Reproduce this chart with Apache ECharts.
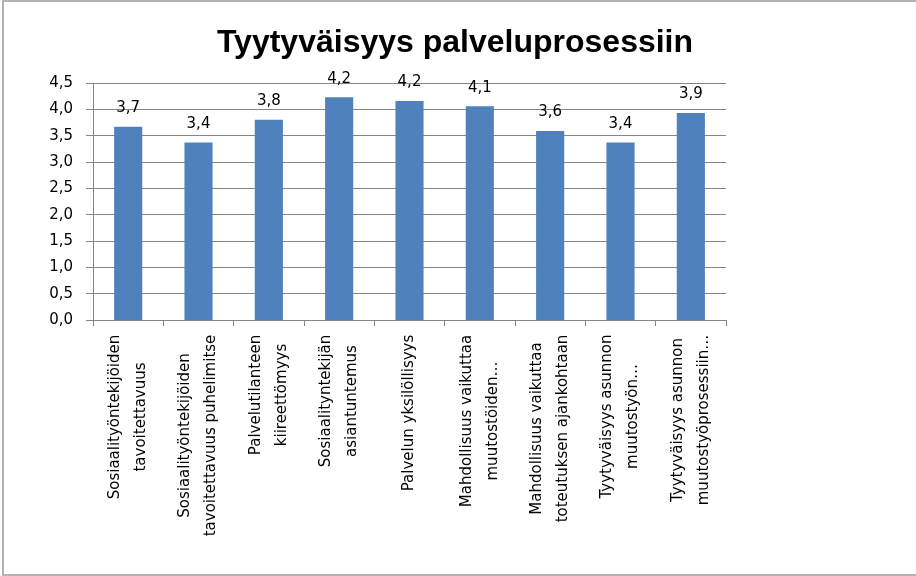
<!DOCTYPE html>
<html>
<head>
<meta charset="utf-8">
<script src="https://cdn.jsdelivr.net/npm/echarts@6/dist/echarts.min.js"></script>
<style>
html,body{margin:0;padding:0;background:#fff;}
#chart{width:916px;height:576px;}
</style>
</head>
<body>
<div id="chart"></div>
<script>
var titleText = 'Tyytyväisyys palveluprosessiin';
var categories = [
  ['Sosiaalityöntekijöiden', 'tavoitettavuus'],
  ['Sosiaalityöntekijöiden', 'tavoitettavuus puhelimitse'],
  ['Palvelutilanteen', 'kiireettömyys'],
  ['Sosiaalityntekijän', 'asiantuntemus'],
  ['Palvelun yksilöllisyys'],
  ['Mahdollisuus vaikuttaa', 'muutostöiden…'],
  ['Mahdollisuus vaikuttaa', 'toteutuksen ajankohtaan'],
  ['Tyytyväisyys asunnon', 'muutostyön…'],
  ['Tyytyväisyys asunnon', 'muutostyöprosessiin…']
];
var values = [3.67, 3.37, 3.80, 4.23, 4.16, 4.06, 3.59, 3.37, 3.93];
var yMin = 0, yMax = 4.5, yStep = 0.5;

var fmt = function (v) { return Number(v).toFixed(1).replace('.', ','); };
var catNames = categories.map(function (c) { return c.join('\n'); });

var labelFont = 'DejaVu Sans', labelSize = 15;
var ctx = document.createElement('canvas').getContext('2d');
ctx.font = labelSize + 'px "' + labelFont + '"';
var rich = {};
categories.forEach(function (lines, i) {
  var w = Math.max.apply(null, lines.map(function (s) { return ctx.measureText(s).width; }));
  rich['c' + i] = {width: Math.ceil(w) + 1, align: 'center', fontFamily: labelFont, fontSize: labelSize, lineHeight: 26, color: '#000'};
});

var chart = echarts.init(document.getElementById('chart'), null, {renderer: 'canvas'});
chart.setOption({
  animation: false,
  backgroundColor: '#ffffff',
  title: {
    text: titleText,
    left: 450, top: 22, textAlign: 'center',
    textStyle: {fontFamily: 'Liberation Sans', fontWeight: 'bold', fontSize: 32, color: '#000'}
  },
  graphic: [{
    type: 'rect', shape: {x: 3, y: 1, width: 1000, height: 574},
    style: {fill: 'none', stroke: '#9a9a9a', lineWidth: 1.5}, silent: true
  }],
  grid: {left: 93, right: 190, top: 83, bottom: 256, containLabel: false},
  xAxis: {
    type: 'category',
    data: catNames,
    axisLine: {lineStyle: {color: '#868686', width: 1}},
    axisTick: {show: true, length: 6, alignWithLabel: false, lineStyle: {color: '#868686'}},
    axisLabel: {
      rotate: 90, interval: 0, margin: 14,
      formatter: function (v, idx) {
        var i = catNames.indexOf(v);
        return v.split('\n').map(function (s) { return '{c' + i + '|' + s + '}'; }).join('\n');
      },
      rich: rich
    }
  },
  yAxis: {
    type: 'value', min: yMin, max: yMax, interval: yStep,
    axisLine: {show: true, lineStyle: {color: '#868686', width: 1}},
    axisTick: {show: true, length: 7, lineStyle: {color: '#868686'}},
    axisLabel: {formatter: fmt, margin: 20, fontFamily: 'DejaVu Sans', fontSize: 15, color: '#000'},
    splitLine: {show: true, lineStyle: {color: '#868686', width: 1}}
  },
  series: [{
    type: 'bar',
    data: values,
    barWidth: '40%',
    itemStyle: {color: '#4F81BD'},
    label: {
      show: true, position: 'top', distance: 11,
      formatter: function (p) { return fmt(p.value); },
      fontFamily: 'DejaVu Sans', fontSize: 15, color: '#000'
    }
  }]
});
</script>
</body>
</html>
